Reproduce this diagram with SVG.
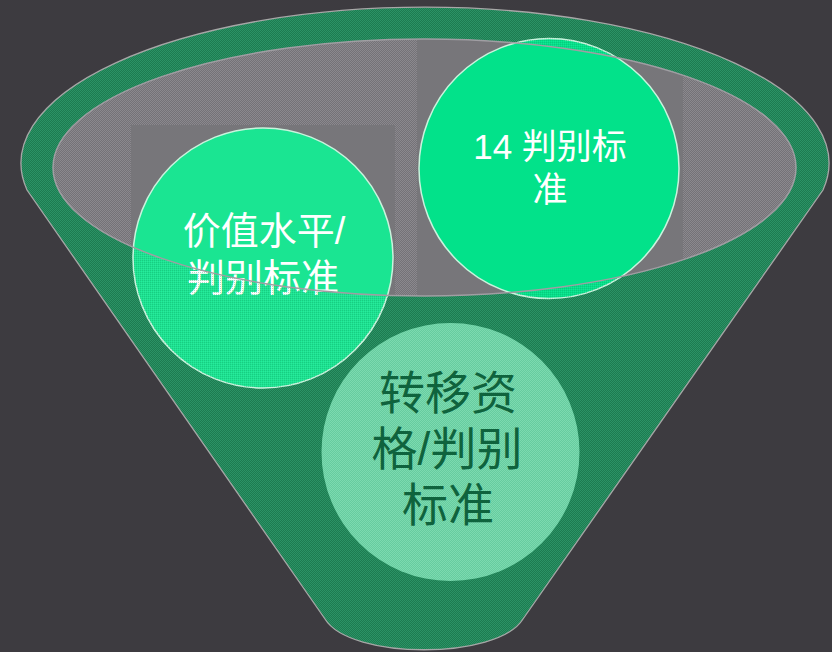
<svg xmlns="http://www.w3.org/2000/svg" width="832" height="652" viewBox="0 0 832 652">
<style>
.cj{font-family:"Liberation Sans","Noto Sans CJK SC",sans-serif;text-anchor:middle}
.wt{fill:#ffffff}
.dk{fill:#0f633d}
.outl{stroke:#a7a7a7;stroke-width:1.3}
</style>
<defs>
<pattern id="pGreen" width="2" height="2" patternUnits="userSpaceOnUse"><rect width="2" height="2" fill="#1d7b50"/><rect width="1" height="1" fill="#2b9366"/><rect x="1" y="1" width="1" height="1" fill="#2b9366"/></pattern>
<pattern id="pGray" width="2" height="2" patternUnits="userSpaceOnUse"><rect width="2" height="2" fill="#747277"/><rect width="1" height="1" fill="#8b898e"/><rect x="1" y="1" width="1" height="1" fill="#8b898e"/></pattern>
<pattern id="pLight" width="2" height="2" patternUnits="userSpaceOnUse"><rect width="2" height="2" fill="#66cc9f"/><rect width="1" height="1" fill="#7cdab0"/><rect x="1" y="1" width="1" height="1" fill="#7cdab0"/></pattern>
<pattern id="pOver" width="2" height="2" patternUnits="userSpaceOnUse"><rect width="1" height="1" fill="#1d9a62" fill-opacity="0.35"/><rect x="1" y="1" width="1" height="1" fill="#ffffff" fill-opacity="0.08"/></pattern>
<clipPath id="innerClip"><ellipse cx="424.5" cy="167.5" rx="371.5" ry="128.5"/></clipPath>
<clipPath id="circClip"><circle cx="263" cy="258" r="130"/><circle cx="549" cy="168.5" r="130"/></clipPath>
</defs>
<rect width="832" height="652" fill="#3d3b40"/>
<g id="funnel">
<path class="outl" d="M27,190 A404,156 0 1 1 823,190 L523,619 C498,660 350,660 325,619 Z" fill="url(#pGreen)"/>
<ellipse cx="424.5" cy="167.5" rx="371.5" ry="128.5" fill="url(#pGray)"/>
<g clip-path="url(#innerClip)" fill="#77767a">
<rect x="131" y="125" width="264" height="180"/>
<rect x="417" y="36" width="266" height="265"/>
</g>
</g>
<g id="node-value">
<circle cx="263" cy="258" r="130" fill="#1ae592" stroke="#c9f3dd" stroke-width="1.5"/>
<text class="cj wt" x="264" y="244" font-size="38">价值水平/</text>
<text class="cj wt" x="263" y="291" font-size="38">判别标准</text>
</g>
<g id="node-14">
<circle cx="549" cy="168.5" r="130" fill="#02e28a" stroke="#c9f3dd" stroke-width="1.5"/>
<text class="cj wt" x="550" y="159" font-size="35">14 判别标</text>
<text class="cj wt" x="550" y="202" font-size="35">准</text>
</g>
<g id="overlay" clip-path="url(#circClip)">
<path d="M27,190 A404,156 0 1 1 823,190 L523,619 C498,660 350,660 325,619 Z M796,167.5 A371.5,128.5 0 1 0 53,167.5 A371.5,128.5 0 1 0 796,167.5 Z" fill="url(#pOver)" fill-rule="evenodd"/>
</g>
<ellipse cx="424.5" cy="167.5" rx="371.5" ry="128.5" fill="none" stroke="#a09ea3" stroke-width="1.5"/>
<g id="node-transfer">
<circle cx="450.5" cy="452" r="129" fill="url(#pLight)"/>
<text class="cj dk" x="448" y="409" font-size="46">转移资</text>
<text class="cj dk" x="447" y="465" font-size="46">格/判别</text>
<text class="cj dk" x="448" y="521" font-size="46">标准</text>
</g>
</svg>
